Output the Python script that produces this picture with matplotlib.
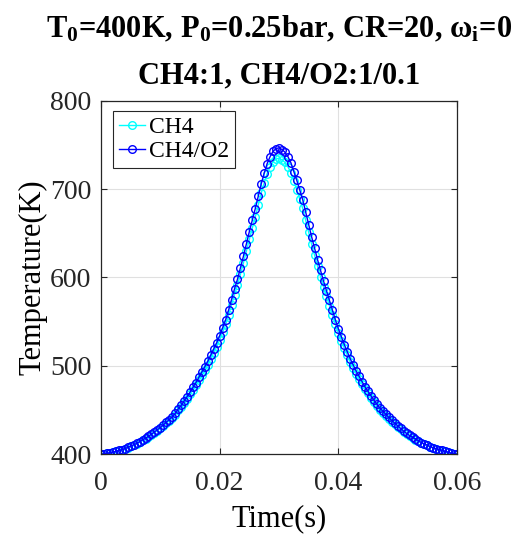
import numpy as np
import matplotlib
matplotlib.use("Agg")
from matplotlib import pyplot as plt

# Data (Temperature in K, every 0.5 ms)
time_s = np.linspace(0, 0.06, 121)

temp_ch4_o2 = [
    400, 400.3, 400.8, 401.3, 402, 403, 404, 405, 406, 407.5,
    409, 410.5, 412, 414, 416, 418, 420, 422.5, 425, 427.5,
    430, 433, 436, 439, 442, 446, 451, 455, 460, 465,
    470, 475.5, 481, 487, 493, 499, 505, 512, 519, 526,
    534, 543, 552, 563, 575, 587, 598, 611, 624, 638,
    652, 665, 678, 692, 706, 718, 729, 737, 743, 746,
    747, 745, 742, 737, 730, 720, 710, 699, 688, 674,
    660, 646, 633, 620, 608, 596, 585, 574, 563, 552,
    542, 533, 524, 516, 508, 501, 494, 488, 482, 476,
    471, 466, 461, 456.5, 452, 448.5, 445, 441.5, 438, 435,
    432, 429, 426, 423.5, 421, 419, 417, 415, 413, 411.5,
    410, 408.5, 407, 406, 405, 404, 403, 402, 401, 400.5,
    400,
]

temp_ch4 = [
    400, 400.3, 400.8, 401.3, 401.9, 402.9, 403.9, 404.8, 405.8, 407.2,
    408.7, 410.1, 411.6, 413.5, 415.5, 417.4, 419.3, 421.7, 424.2, 426.6,
    429, 431.9, 434.8, 437.7, 440.6, 444.4, 449.3, 453.1, 458, 462.8,
    467.6, 472.9, 478.2, 484, 489.8, 495.6, 501.4, 508.2, 515, 521.7,
    529.4, 538.1, 546.8, 557.5, 569.1, 580.6, 591.3, 603.8, 616.4, 629.9,
    643.4, 656, 668.5, 682.1, 695.6, 707.2, 717.8, 725.5, 731.3, 734.2,
    735.2, 733.3, 730.4, 725.5, 718.8, 709.1, 699.5, 688.8, 678.2, 664.7,
    651.2, 637.6, 625.1, 612.5, 600.9, 589.3, 578.7, 568.1, 557.5, 546.8,
    537.2, 528.5, 519.8, 512.1, 504.3, 497.6, 490.8, 485, 479.2, 473.4,
    468.6, 463.8, 458.9, 454.6, 450.2, 446.9, 443.5, 440.1, 436.7, 433.8,
    430.9, 428, 425.1, 422.7, 420.3, 418.4, 416.4, 414.5, 412.6, 411.1,
    409.7, 408.2, 406.8, 405.8, 404.8, 403.9, 402.9, 401.9, 401, 400.5,
    400,
]

x_ticks = [0, 0.02, 0.04, 0.06]
x_tick_labels = ["0", "0.02", "0.04", "0.06"]
y_ticks = [400, 500, 600, 700, 800]
series_names = ["CH4", "CH4/O2"]

plt.rcParams["font.family"] = ["Liberation Serif", "DejaVu Serif"]
plt.rcParams["mathtext.fontset"] = "custom"
plt.rcParams["mathtext.rm"] = "Liberation Serif:bold"
plt.rcParams["mathtext.it"] = "Liberation Serif:bold"
plt.rcParams["mathtext.bf"] = "Liberation Serif:bold"

fig = plt.figure(figsize=(5.22, 5.34), dpi=100)
ax = fig.add_axes([0.1935, 0.1498, 0.682, 0.6611])

ax.plot(time_s, temp_ch4, "-o", color="cyan", markersize=5.5, markerfacecolor="none",
        markeredgewidth=1.0, linewidth=1.0, label=series_names[0])
ax.plot(time_s, temp_ch4_o2, "-o", color="blue", markersize=5.5, markerfacecolor="none",
        markeredgewidth=1.0, linewidth=1.0, label=series_names[1])

ax.set_xlim(0, 0.06)
ax.set_ylim(400, 800)
ax.set_xticks(x_ticks)
ax.set_xticklabels(x_tick_labels)
ax.set_yticks(y_ticks)
ax.tick_params(direction="in", top=True, right=True, labelsize=20, colors="#262626",
               length=4, width=0.8)
ax.tick_params(axis="x", pad=12)
ax.tick_params(axis="y", pad=7)
ax.grid(True, color="#e0e0e0", linewidth=0.8)
ax.set_axisbelow(True)
for s in ax.spines.values():
    s.set_color("#262626")
    s.set_linewidth(0.9)

ax.set_xlabel("Time(s)", fontsize=22, color="black", labelpad=6)
ax.set_ylabel("Temperature(K)", fontsize=22, color="black", labelpad=2)
ax.set_title("T$_0$=400K, P$_0$=0.25bar, CR=20, ω$_\\mathrm{i}$=0\nCH4:1, CH4/O2:1/0.1",
             fontsize=22, fontweight="bold", pad=13, linespacing=1.75)

leg = ax.legend(loc="upper left", bbox_to_anchor=(0.033, 0.972), fontsize=17,
                frameon=True, fancybox=False, edgecolor="#262626", framealpha=1,
                borderpad=0.25, handlelength=1.1, handletextpad=0.2,
                labelspacing=0.1, borderaxespad=0)
leg.get_frame().set_linewidth(0.8)

fig.savefig("out.png", dpi=100)
